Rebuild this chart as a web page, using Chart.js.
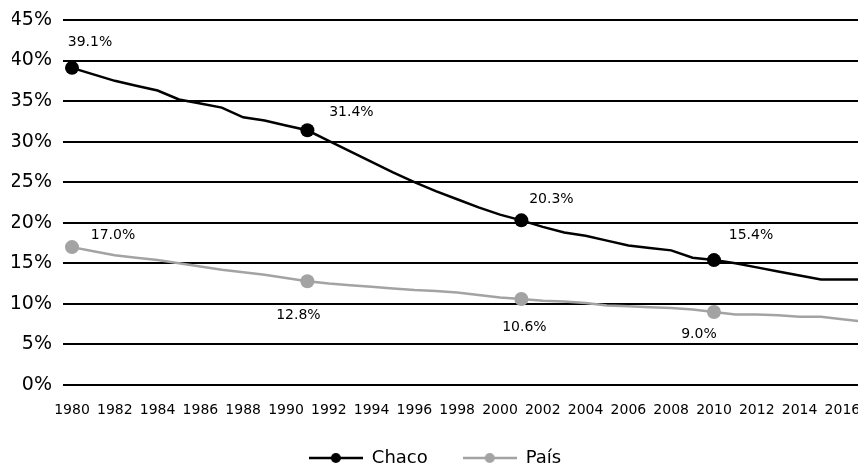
<!DOCTYPE html>
<html>
<head>
<meta charset="utf-8">
<script src="https://cdn.jsdelivr.net/npm/chart.js@4"></script>
<style>
  html, body { margin: 0; padding: 0; background: #fff; overflow: hidden; }
  #wrap { width: 858px; height: 466px; }
  canvas { display: block; }
</style>
</head>
<body>
<div id="wrap"><canvas id="chart"></canvas></div>
<script>
// Datos
const years = [1980, 1981, 1982, 1983, 1984, 1985, 1986, 1987, 1988, 1989,
               1990, 1991, 1992, 1993, 1994, 1995, 1996, 1997, 1998, 1999,
               2000, 2001, 2002, 2003, 2004, 2005, 2006, 2007, 2008, 2009,
               2010, 2011, 2012, 2013, 2014, 2015, 2016, 2017];
const chaco = [39.1, 38.3, 37.5, 36.9, 36.3, 35.2, 34.7, 34.2, 33.0, 32.6,
               32.0, 31.4, 30.1, 28.8, 27.5, 26.2, 25.0, 23.9, 22.9, 21.9,
               21.0, 20.3, 19.5, 18.8, 18.4, 17.8, 17.2, 16.9, 16.6, 15.7,
               15.4, 15.0, 14.5, 14.0, 13.5, 13.0, 13.0, 13.0];
const pais  = [17.0, 16.5, 16.0, 15.7, 15.4, 15.0, 14.6, 14.2, 13.9, 13.6,
               13.2, 12.8, 12.5, 12.3, 12.1, 11.9, 11.7, 11.6, 11.4, 11.1,
               10.8, 10.6, 10.4, 10.3, 10.1, 9.8, 9.7, 9.6, 9.5, 9.3,
               9.0, 8.7, 8.7, 8.6, 8.4, 8.4, 8.1, 7.8];
const labeledYears = [1980, 1991, 2001, 2010];
const xTicks = [1980, 1982, 1984, 1986, 1988, 1990, 1992, 1994, 1996, 1998,
                2000, 2002, 2004, 2006, 2008, 2010, 2012, 2014, 2016];
const yTicks = [0, 5, 10, 15, 20, 25, 30, 35, 40, 45];

const FONT = "'DejaVu Sans', sans-serif";
const BLACK = '#000000';
const GRAY = '#a3a3a3';

// desplazamiento de las etiquetas respecto al punto (px)
const labelOffsets = {
    'Chaco': [[18, -25], [44, -18], [30, -21], [37, -25]],
    'País':  [[41, -12], [-9, 34], [3, 28], [-15, 22]]
};

const pointRadii = years.map(y => labeledYears.includes(y) ? 7 : 0);

function legendSymbol(color) {
    const c = document.createElement('canvas');
    c.width = 54; c.height = 12;
    const g = c.getContext('2d');
    g.strokeStyle = color;
    g.lineWidth = 2.5;
    g.beginPath(); g.moveTo(0, 6); g.lineTo(54, 6); g.stroke();
    g.fillStyle = color;
    g.beginPath(); g.arc(27, 6, 5, 0, Math.PI * 2); g.fill();
    return c;
}

const valueLabels = {
    id: 'valueLabels',
    afterDatasetsDraw(chart) {
        const ctx = chart.ctx;
        ctx.save();
        ctx.font = '14px ' + FONT;
        ctx.fillStyle = '#000';
        ctx.textAlign = 'center';
        ctx.textBaseline = 'middle';
        chart.data.datasets.forEach((ds, di) => {
            const meta = chart.getDatasetMeta(di);
            labeledYears.forEach((yr, k) => {
                const i = years.indexOf(yr);
                const el = meta.data[i];
                const off = labelOffsets[ds.label][k];
                ctx.fillText(ds.data[i].y.toFixed(1) + '%', el.x + off[0], el.y + off[1]);
            });
        });
        ctx.restore();
    }
};

new Chart(document.getElementById('chart'), {
    type: 'line',
    data: {
        datasets: [
            {
                label: 'Chaco',
                data: years.map((y, i) => ({ x: y, y: chaco[i] })),
                borderColor: BLACK,
                backgroundColor: BLACK,
                borderWidth: 2.5,
                pointRadius: pointRadii,
                pointHoverRadius: pointRadii,
                pointBorderWidth: 0,
                pointStyle: 'circle',
                tension: 0
            },
            {
                label: 'País',
                data: years.map((y, i) => ({ x: y, y: pais[i] })),
                borderColor: GRAY,
                backgroundColor: GRAY,
                borderWidth: 2.5,
                pointRadius: pointRadii,
                pointHoverRadius: pointRadii,
                pointBorderWidth: 0,
                pointStyle: 'circle',
                tension: 0
            }
        ]
    },
    options: {
        responsive: true,
        maintainAspectRatio: false,
        animation: false,
        layout: { autoPadding: false, padding: { left: 12, right: 0, top: 20, bottom: 0 } },
        plugins: {
            tooltip: { enabled: false },
            legend: {
                display: true,
                position: 'bottom',
                maxHeight: 52,
                labels: {
                    usePointStyle: true,
                    pointStyleWidth: 54,
                    padding: 35,
                    color: '#000',
                    font: { family: FONT, size: 18 },
                    generateLabels(chart) {
                        return chart.data.datasets.map((ds, i) => ({
                            text: ds.label,
                            fillStyle: ds.borderColor,
                            strokeStyle: ds.borderColor,
                            lineWidth: 0,
                            pointStyle: legendSymbol(ds.borderColor),
                            datasetIndex: i,
                            hidden: false
                        }));
                    }
                }
            }
        },
        scales: {
            x: {
                type: 'linear',
                min: 1979.58,
                max: 2016.73,
                afterBuildTicks(axis) { axis.ticks = xTicks.map(v => ({ value: v })); },
                afterFit(axis) {
                    axis.paddingLeft = 0;
                    axis.paddingRight = 0;
                    axis.height = 29;
                },
                grid: { display: false, drawTicks: false },
                border: { display: false },
                ticks: {
                    autoSkip: false,
                    maxRotation: 0,
                    padding: 17,
                    color: '#000',
                    font: { family: FONT, size: 14 },
                    callback: v => String(v)
                }
            },
            y: {
                min: 0,
                max: 45,
                afterBuildTicks(axis) { axis.ticks = yTicks.map(v => ({ value: v })); },
                afterFit(axis) {
                    axis.width = 51;
                    axis.paddingTop = 0;
                    axis.paddingBottom = 0;
                },
                grid: { color: BLACK, lineWidth: 2, drawTicks: false },
                border: { display: false },
                ticks: {
                    padding: 11,
                    color: '#000',
                    font: { family: FONT, size: 19 },
                    callback: v => v + '%'
                }
            }
        }
    },
    plugins: [valueLabels]
});
</script>
</body>
</html>
